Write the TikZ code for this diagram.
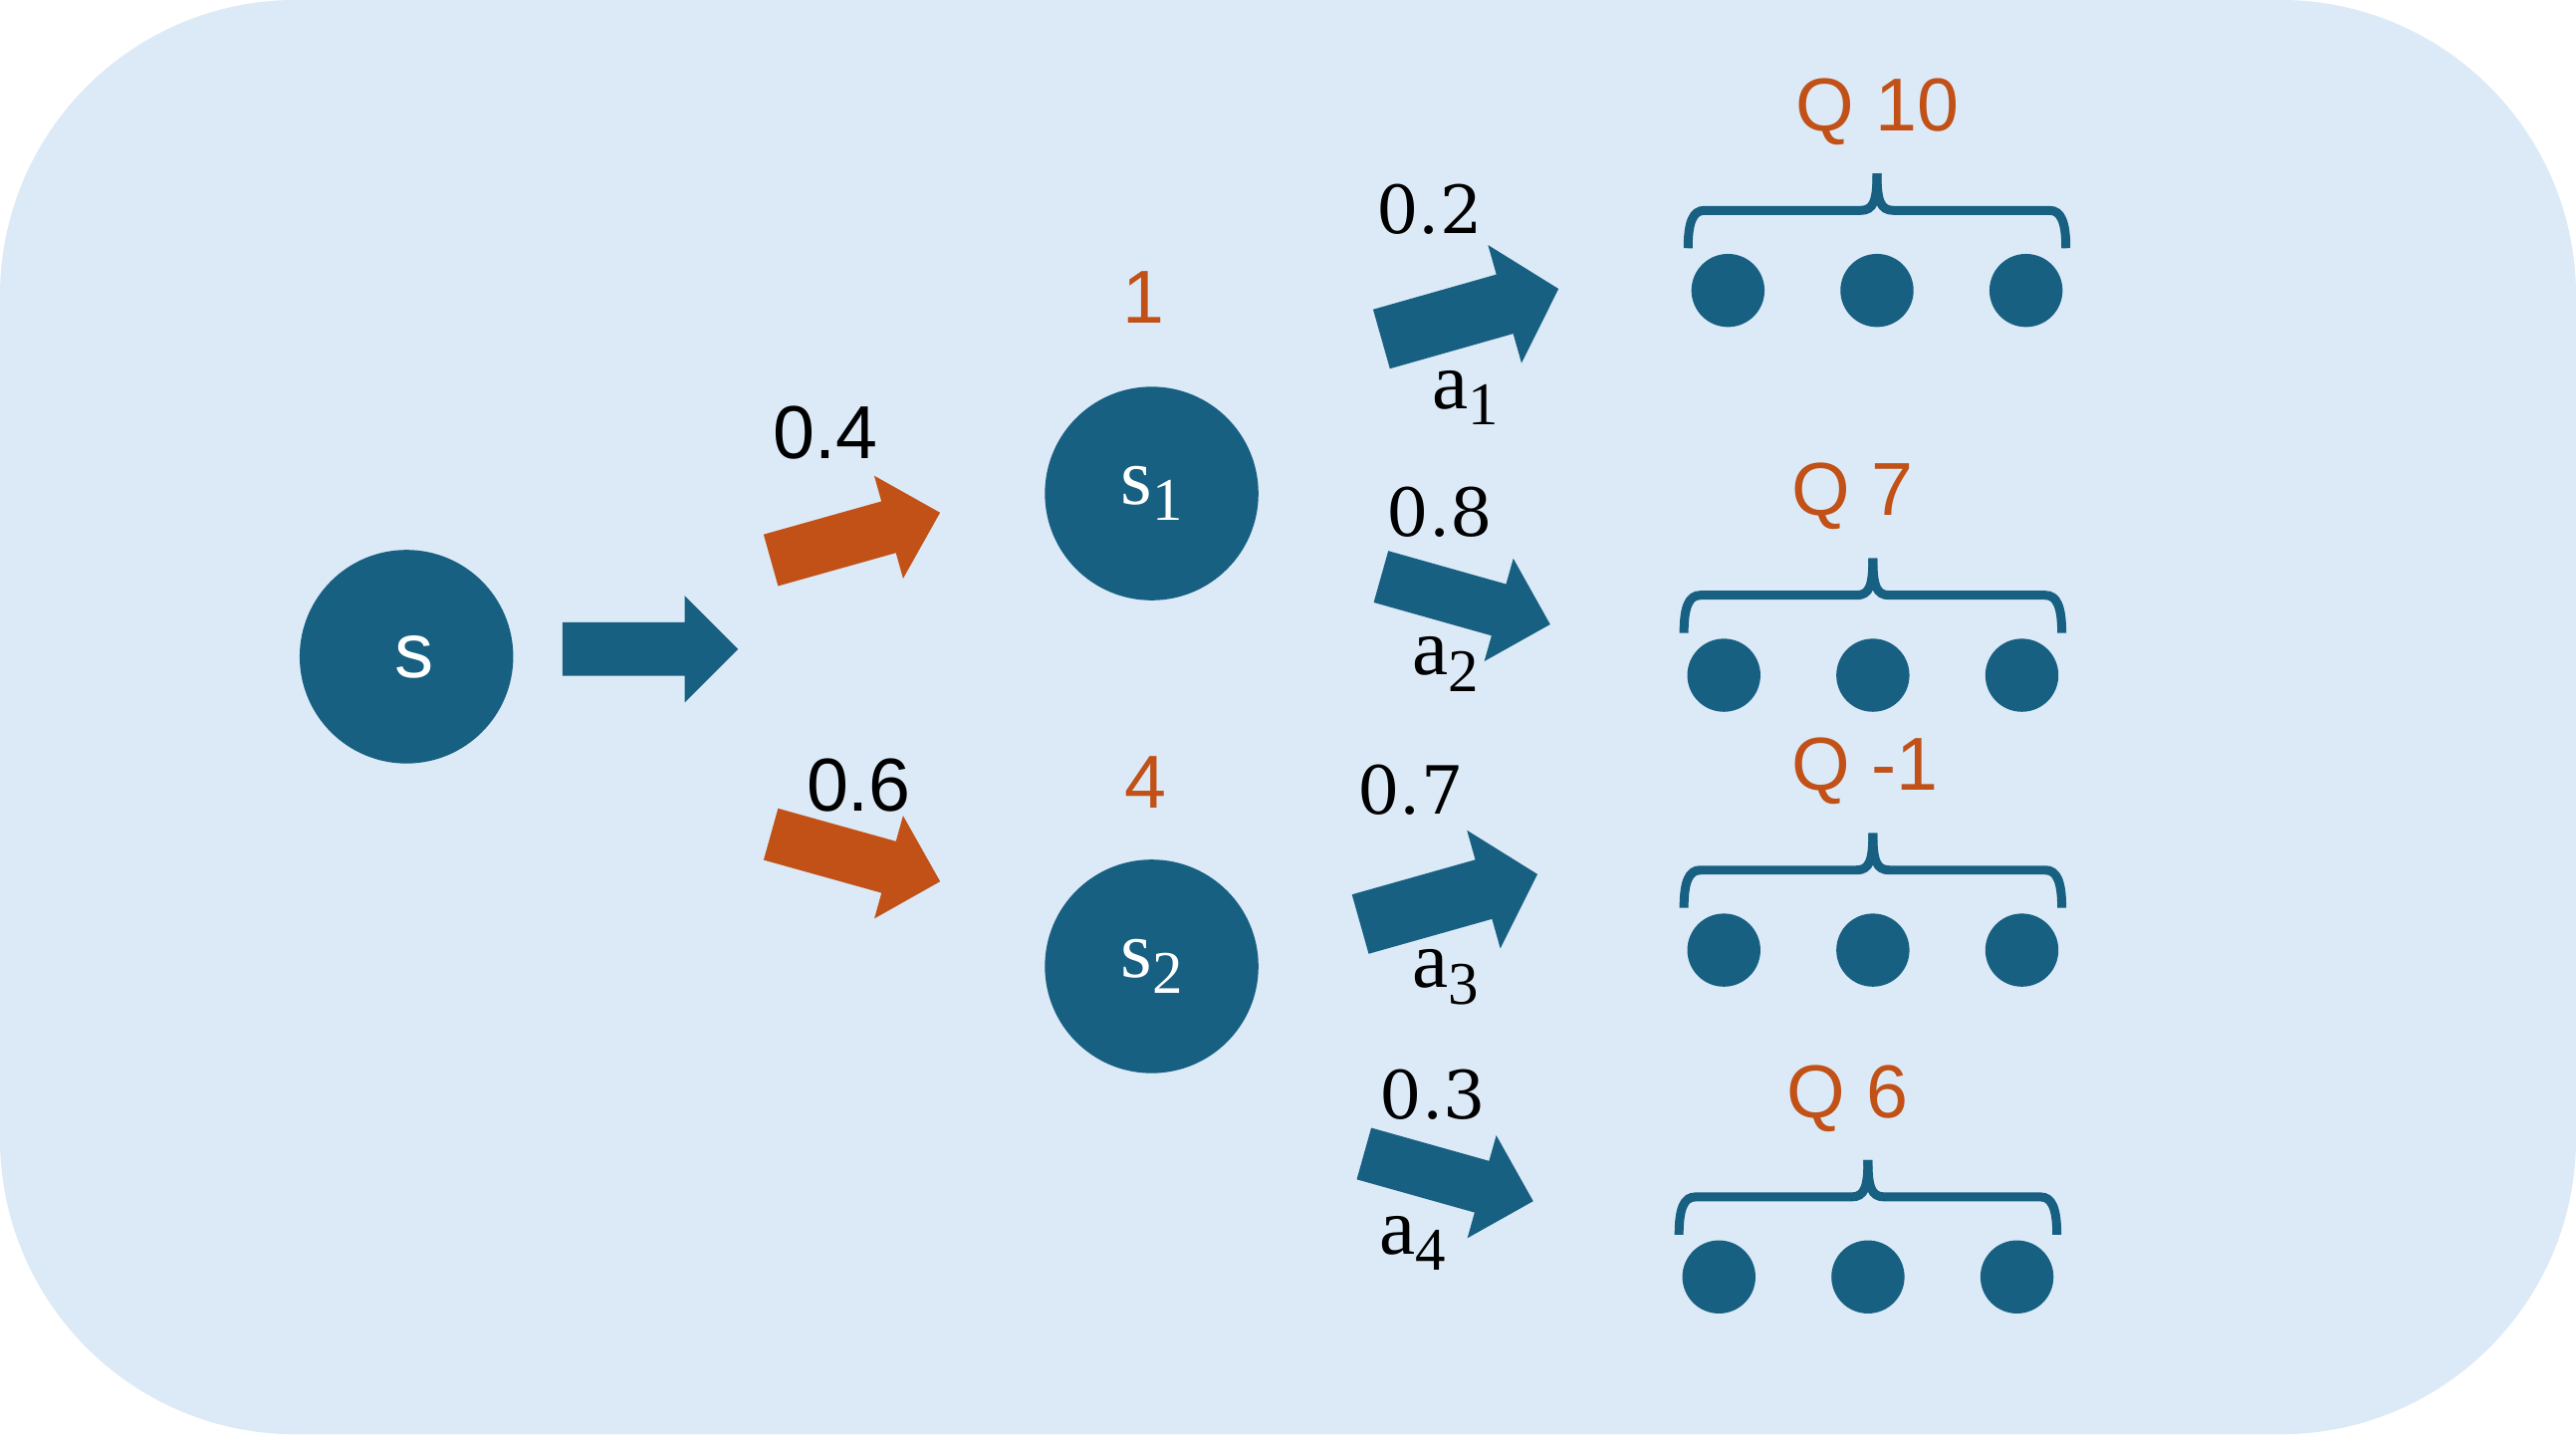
\documentclass[tikz,border=0pt]{standalone}
\usepackage{fontspec}
\setmainfont{Liberation Sans}
\newfontfamily\serifface{Liberation Serif}
\newfontfamily\digitface{DejaVu Serif}
\definecolor{navy}{RGB}{23,96,130}
\definecolor{rust}{RGB}{193,81,23}
\definecolor{paleblue}{RGB}{220,234,247}
\usetikzlibrary{positioning}
\newcommand{\sidx}[2]{{\serifface\fontsize{14}{16}\selectfont #1\raisebox{-2.8pt}{\fontsize{10.5}{12}\selectfont #2}}}
\tikzset{
  state/.style={circle, fill=navy, minimum size=1.3cm, inner sep=0pt, text=white},
  leaf/.style={circle, fill=navy, minimum size=0.445cm, inner sep=0pt},
  prob/.style={inner sep=0pt, font=\fontsize{13}{15}\selectfont},
  probserif/.style={inner sep=0pt, font=\digitface\fontsize{11.5}{14}\selectfont},
  reward/.style={inner sep=0pt, text=rust, font=\fontsize{13}{15}\selectfont},
  actlabel/.style={inner sep=0pt},
  blockarrow/.pic={
    \fill (0,-0.163) -- (0.745,-0.163) -- (0.745,-0.325) -- (1.07,0)
      -- (0.745,0.325) -- (0.745,0.163) -- (0,0.163) -- cycle;
  },
  qbrace/.pic={
    \draw[navy, line width=1.55pt] (0,0.455) .. controls (0,0.29) and (-0.02,0.23) .. (-0.1,0.23)
      -- (-1.05,0.23) .. controls (-1.12,0.23) and (-1.15,0.16) .. (-1.15,0);
    \draw[navy, line width=1.55pt] (0,0.455) .. controls (0,0.29) and (0.02,0.23) .. (0.1,0.23)
      -- (1.05,0.23) .. controls (1.12,0.23) and (1.15,0.16) .. (1.15,0);
  }
}

\begin{document}
\begin{tikzpicture}
  %% Background panel
  \fill[paleblue, rounded corners=1.8cm] (0,0) rectangle (15.68,8.73);
  \useasboundingbox (0,0) rectangle (15.68,8.73);

  %% States
  \node[state, font=\fontsize{13.5}{16}\selectfont] (s) at (2.474,4.733) {\hspace{0.1cm}\raisebox{-0.038cm}{s}};
  \node[state] (s1) at (7.01,5.726) {\sidx{s}{1}};
  \node[state] (s2) at (7.01,2.848) {\sidx{s}{2}};
  \node[reward, above=0.37cm of s1, xshift=-0.05cm] (v1) {1};
  \node[reward, above=0.3cm of s2, xshift=-0.04cm] (v2) {4};

  %% Transition arrows
  \pic[navy] at (3.423,4.779) {blockarrow};
  \pic[rust, rotate=15.7] at (4.692,5.32) {blockarrow};
  \pic[rust, rotate=-15.6] at (4.692,3.6525) {blockarrow};
  \node[prob] (p1) at (5.025,6.095) {0.4};
  \node[prob] (p2) at (5.227,3.95) {0.6};

  %% Action arrows
  \pic[navy, rotate=15.85, xscale=1.047, yscale=1.15] at (8.409,6.666) {blockarrow};
  \pic[navy, rotate=-15.75] at (8.406,5.22) {blockarrow};
  \pic[navy, rotate=15.75, xscale=1.047, yscale=1.15] at (8.28,3.105) {blockarrow};
  \pic[navy, rotate=-15.7] at (8.3025,1.7085) {blockarrow};
  \node[probserif] (pa1) at (8.70,7.455) {0.2};
  \node[probserif] (pa2) at (8.762,5.61) {0.8};
  \node[probserif] (pa3) at (8.586,3.925) {0.7};
  \node[probserif] (pa4) at (8.72,2.07) {0.3};
  \node[actlabel] (a1) at (8.92,6.31) {\sidx{a}{1}};
  \node[actlabel] (a2) at (8.80,4.688) {\sidx{a}{2}};
  \node[actlabel] (a3) at (8.80,2.783) {\sidx{a}{3}};
  \node[actlabel] (a4) at (8.597,1.165) {\sidx{a}{4}};

  %% Successor groups with their Q values
  \foreach \gx/\gy/\qv/\gid in {11.425/7.219/10/1, 11.40/4.877/7/2,
                               11.40/3.204/-1/3, 11.37/1.215/6/4}{
    \pic at (\gx,\gy) {qbrace};
    \node[reward, anchor=west] (q\gid) at (\gx-0.50,\gy+0.83) {Q \qv};
    \foreach \dx/\did in {-0.907/a, 0/b, 0.907/c}
      \node[leaf] (leaf\gid\did) at (\gx+\dx,\gy-0.257) {};
  }
\end{tikzpicture}
\end{document}
